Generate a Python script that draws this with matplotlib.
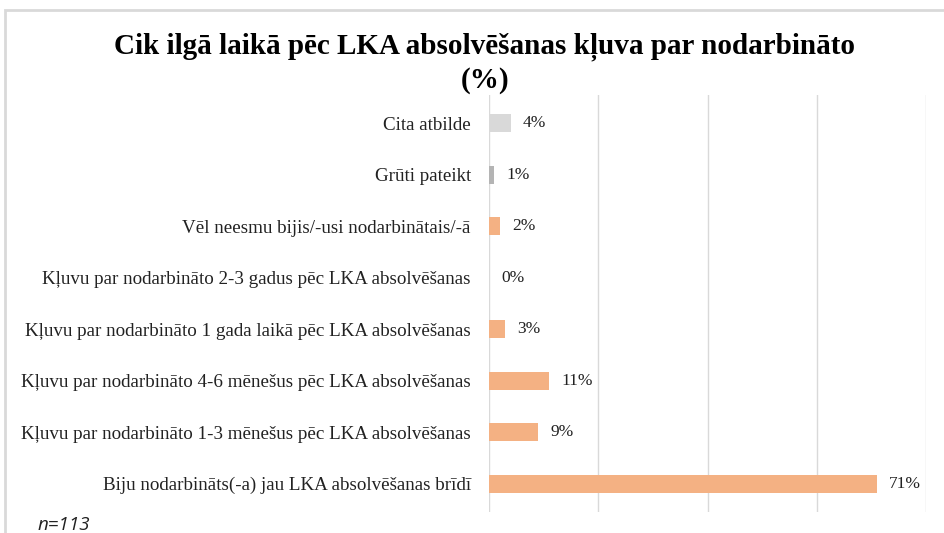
import matplotlib
matplotlib.use("Agg")
import matplotlib.pyplot as plt
from matplotlib.patches import Rectangle

categories = [
    "Biju nodarbināts(-a) jau LKA absolvēšanas brīdī",
    "Kļuvu par nodarbināto 1-3 mēnešus pēc LKA absolvēšanas",
    "Kļuvu par nodarbināto 4-6 mēnešus pēc LKA absolvēšanas",
    "Kļuvu par nodarbināto 1 gada laikā pēc LKA absolvēšanas",
    "Kļuvu par nodarbināto 2-3 gadus pēc LKA absolvēšanas",
    "Vēl neesmu bijis/-usi nodarbinātais/-ā",
    "Grūti pateikt",
    "Cita atbilde",
]
values = [71, 9, 11, 3, 0, 2, 1, 4]
colors = ["#F4B183"] * 6 + ["#B4B4B4", "#D9D9D9"]
title = "Cik ilgā laikā pēc LKA absolvēšanas kļuva par nodarbināto\n(%)"
note = "n=113"

serif = ["Liberation Serif", "DejaVu Serif"]

fig = plt.figure(figsize=(9.44, 5.33), dpi=100)
fig.patch.set_facecolor("white")

# outer chart border (light gray)
fig.patches.append(Rectangle((5 / 944, -0.1), 1.2, (533 - 10) / 533 + 0.1,
                             transform=fig.transFigure, fill=False,
                             edgecolor="#D9D9D9", linewidth=2.0))

ax = fig.add_axes([489 / 944, 1 - 512 / 533, (926 - 489) / 944, (512 - 95) / 533])
y = list(range(len(categories)))
ax.barh(y, values, height=0.35, color=colors, zorder=3)
for yi, v in zip(y, values):
    ax.text(v + 2.2, yi, f"{v}%", va="center", ha="left", fontsize=12.5,
            family=serif, color="#222222")

ax.set_xlim(0, 80)
ax.set_ylim(-0.55, len(categories) - 0.45)
ax.set_xticks([0, 20, 40, 60, 80])
ax.xaxis.grid(True, color="#D9D9D9", linewidth=1.0, zorder=0)
ax.tick_params(axis="x", which="both", bottom=False, labelbottom=False)
ax.set_yticks(y)
ax.set_yticklabels(categories, fontsize=13.7, family=serif, color="#222222")
ax.tick_params(axis="y", length=0, pad=13)
for s in ax.spines.values():
    s.set_visible(False)

fig.text(485 / 944, 1 - 63 / 533, title, ha="center", va="center",
         fontsize=21, fontweight="bold", family=serif, linespacing=1.25)
fig.text(38 / 944, 1 - 525 / 533, note, ha="left", va="center",
         fontsize=13.5, style="italic", family=["Open Sans", "DejaVu Sans"], color="#222222")

fig.savefig("out.png", dpi=100)
